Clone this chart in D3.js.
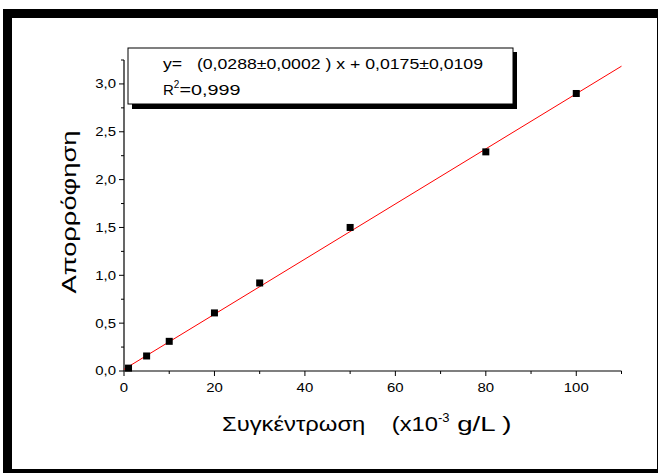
<!DOCTYPE html>
<html>
<head>
<meta charset="utf-8">
<script src="https://cdn.jsdelivr.net/npm/d3@7"></script>
<style>
  body { margin: 0; background: #fff; }
  svg { display: block; font-family: "Liberation Sans", Arial, sans-serif; }
</style>
</head>
<body>
<div id="chart"></div>
<script>
// Concentration (x10^-3 g/L) and absorbance
const concentration = [1, 5, 10, 20, 30, 50, 80, 100];
const absorbance = [0.03, 0.157, 0.31, 0.607, 0.92, 1.50, 2.29, 2.90];
const fitSlope = 0.0288;
const fitIntercept = 0.0175;
const fitRange = [0, 110];
const xTicks = [0, 20, 40, 60, 80, 100];
const xMinor = [10, 30, 50, 70, 90, 110];
const yTicks = [0, 0.5, 1.0, 1.5, 2.0, 2.5, 3.0];
const yMinor = [0.25, 0.75, 1.25, 1.75, 2.25, 2.75, 3.25];

const W = 658, H = 473;
const svg = d3.select('#chart').append('svg')
  .attr('width', W).attr('height', H);

// outer frame (thick on left/top/bottom, thin on right)
svg.append('rect').attr('x', 3).attr('y', 9).attr('width', 655).attr('height', 464).attr('fill', '#000');
svg.append('rect').attr('x', 12).attr('y', 18).attr('width', 645).attr('height', 451).attr('fill', '#fff');

const x = d3.scaleLinear().domain([0, 110]).range([124, 621.5]);
const y = d3.scaleLinear().domain([0, 3.25]).range([371, 60]);
const fmt = d => d3.format('.1f')(d).replace('.', ',');

// x axis
const xg = svg.append('g').attr('transform', 'translate(0,371)');
xg.append('line').attr('x1', x(0)).attr('x2', x(110)).attr('stroke', '#000').attr('stroke-width', 1.2);
xg.selectAll('.xt').data(xTicks).join('line')
  .attr('x1', d => x(d)).attr('x2', d => x(d)).attr('y1', 0).attr('y2', 5)
  .attr('stroke', '#000');
xg.selectAll('.xm').data(xMinor).join('line')
  .attr('x1', d => x(d)).attr('x2', d => x(d)).attr('y1', 0).attr('y2', 3)
  .attr('stroke', '#000');
xg.selectAll('text').data(xTicks).join('text')
  .attr('x', d => x(d)).attr('y', 21)
  .attr('text-anchor', 'middle')
  .style('font-size', '13px')
  .attr('transform-origin', d => `${x(d)} 21`)
  .attr('transform', 'scale(1.15,1)')
  .text(d => d);

// y axis
const yg = svg.append('g').attr('transform', 'translate(124,0)');
yg.append('line').attr('y1', y(0)).attr('y2', y(3.25)).attr('stroke', '#000').attr('stroke-width', 1.2);
yg.selectAll('.yt').data(yTicks).join('line')
  .attr('y1', d => y(d)).attr('y2', d => y(d)).attr('x1', 0).attr('x2', -5)
  .attr('stroke', '#000');
yg.selectAll('.ym').data(yMinor).join('line')
  .attr('y1', d => y(d)).attr('y2', d => y(d)).attr('x1', 0).attr('x2', -3)
  .attr('stroke', '#000');
yg.selectAll('text').data(yTicks).join('text')
  .attr('x', -8).attr('y', d => y(d) + 4.5)
  .attr('text-anchor', 'end')
  .style('font-size', '13px')
  .attr('transform-origin', d => `-8 ${y(d)}`)
  .attr('transform', 'scale(1.15,1)')
  .text(fmt);

// fit line
svg.append('line')
  .attr('x1', x(fitRange[0])).attr('y1', y(fitSlope * fitRange[0] + fitIntercept))
  .attr('x2', x(fitRange[1])).attr('y2', y(fitSlope * fitRange[1] + fitIntercept))
  .attr('stroke', '#ff0000').attr('stroke-width', 1);

// data points
svg.selectAll('.pt').data(concentration).join('rect')
  .attr('class', 'pt')
  .attr('x', (d, i) => x(d) - 3.5)
  .attr('y', (d, i) => y(absorbance[i]) - 3.5)
  .attr('width', 7).attr('height', 7)
  .attr('fill', '#000');

// legend box with shadow
svg.append('rect').attr('x', 132).attr('y', 52).attr('width', 385).attr('height', 57).attr('fill', '#000');
svg.append('rect').attr('x', 128).attr('y', 48).attr('width', 385).attr('height', 56)
  .attr('fill', '#fff').attr('stroke', '#000').attr('stroke-width', 1);
svg.append('text').attr('x', 163).attr('y', 69)
  .style('font-size', '15px')
  .attr('xml:space', 'preserve')
  .attr('textLength', 320).attr('lengthAdjust', 'spacingAndGlyphs')
  .text('y=   (0,0288\u00b10,0002 ) x + 0,0175\u00b10,0109');
const r2 = svg.append('text').attr('x', 163).attr('y', 95).style('font-size', '15px');
r2.append('tspan').text('R');
r2.append('tspan').attr('dy', -7).style('font-size', '10px').text('2');
r2.append('tspan').attr('dy', 7).attr('textLength', 61).attr('lengthAdjust', 'spacingAndGlyphs').text('=0,999');

// axis titles
svg.append('text')
  .attr('transform', 'translate(76,212) rotate(-90)')
  .attr('text-anchor', 'middle')
  .style('font-size', '20px')
  .attr('textLength', 163).attr('lengthAdjust', 'spacingAndGlyphs')
  .text('Απορρόφηση');

const xt = svg.append('text').attr('x', 222).attr('y', 431)
  .attr('xml:space', 'preserve')
  .style('font-size', '20px');
xt.append('tspan').attr('textLength', 216).attr('lengthAdjust', 'spacingAndGlyphs').text('Συγκέντρωση    (x10');
xt.append('tspan').attr('dy', -9).style('font-size', '13px').text('-3');
xt.append('tspan').attr('dy', 9).attr('textLength', 62).attr('lengthAdjust', 'spacingAndGlyphs').text(' g/L )');
</script>
</body>
</html>
